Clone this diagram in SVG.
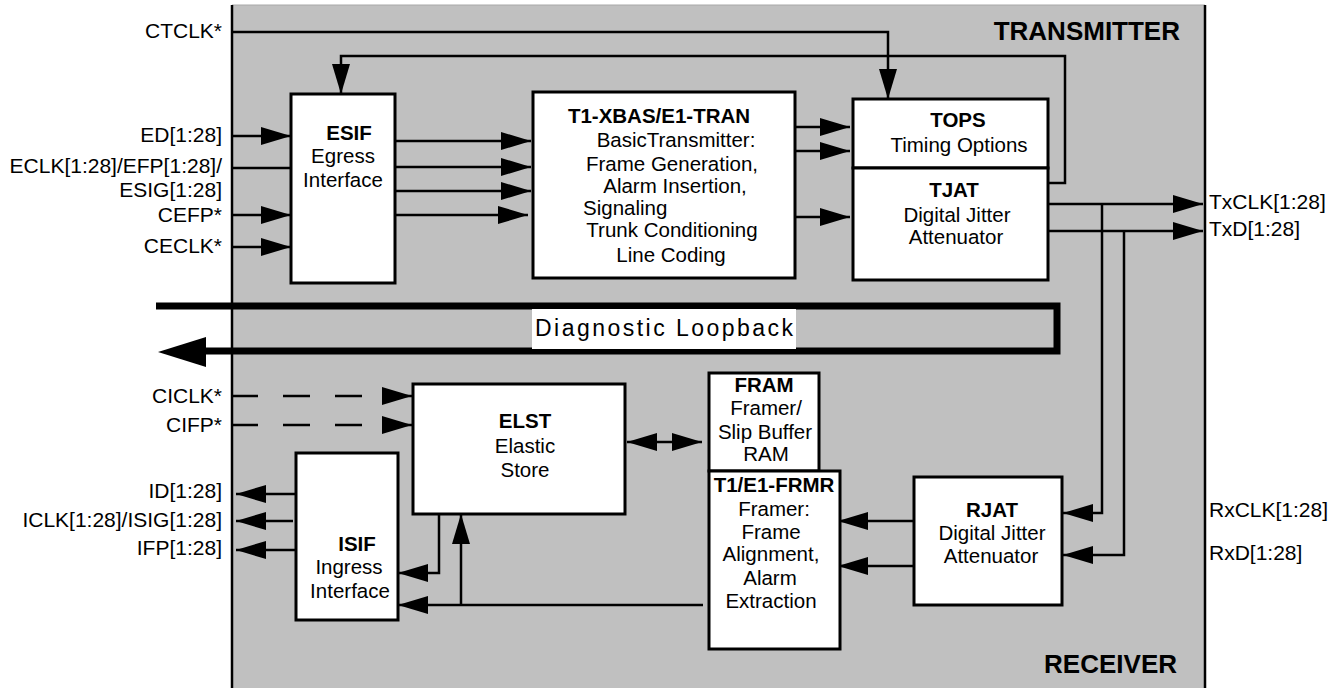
<svg xmlns="http://www.w3.org/2000/svg" width="1342" height="688" viewBox="0 0 1342 688">
<defs>
<marker id="ah" markerUnits="userSpaceOnUse" markerWidth="31" markerHeight="18" refX="30" refY="9" orient="auto-start-reverse">
<path d="M0,0 L30,9 L0,18 z" fill="#000"/>
</marker>
</defs>
<style>
.t{font-family:"Liberation Sans",Arial,Helvetica,sans-serif;font-size:20.5px;fill:#000}
.x{font-size:21px}
.b{font-weight:bold}
.m{text-anchor:middle}
.e{text-anchor:end}
.box{fill:#fff;stroke:#000;stroke-width:3}
.w{fill:none;stroke:#000;stroke-width:2.5}
.a{marker-end:url(#ah)}
.d{stroke-dasharray:27 25}
.big{font-size:26px;font-weight:bold}
</style>
<rect x="0" y="0" width="1342" height="688" fill="#fff"/>
<g id="panel">
<rect x="232" y="5" width="973" height="690" fill="#c0c0c0"/>
<line x1="232" y1="5" x2="1205" y2="5" stroke="#a8a8a8" stroke-width="1"/>
<line x1="232" y1="5" x2="232" y2="688" stroke="#000" stroke-width="2.5"/>
<line x1="1205" y1="5" x2="1205" y2="688" stroke="#000" stroke-width="2.5"/>
<text class="t big e" x="1180" y="40">TRANSMITTER</text>
<text class="t big e" x="1177" y="673">RECEIVER</text>
</g>
<g id="connectors">
<path class="w a" d="M231,32 H888 V99"/>
<path class="w a" d="M1046,183 H1065 V56 H341 V94"/>
<path class="w a" d="M231,136 H291"/>
<path class="w" d="M231,168 H291"/>
<path class="w a" d="M231,215 H291"/>
<path class="w a" d="M231,247 H291"/>
<path class="w a" d="M395,141 H531"/>
<path class="w a" d="M395,167 H531"/>
<path class="w a" d="M395,191 H531"/>
<path class="w a" d="M395,215 H528"/>
<path class="w a" d="M793,127 H850"/>
<path class="w a" d="M793,151 H850"/>
<path class="w a" d="M795,217 H850"/>
<path class="w a" d="M1046,204 H1203"/>
<path class="w a" d="M1048,231 H1203"/>
<path class="w a" d="M1102,204 V513 H1063"/>
<path class="w a" d="M1124,231 V555 H1063"/>
<path class="w a" d="M914,521 H838"/>
<path class="w a" d="M914,566 H838"/>
<path class="w a" d="M703,605 H398"/>
<path class="w a" d="M461,605 V514"/>
<path class="w a" d="M439,514 V573 H398"/>
<path class="w a" d="M296,494 H236"/>
<path class="w a" d="M293,521 H236"/>
<path class="w a" d="M296,550 H236"/>
<path class="w d a" d="M231,396 H412"/>
<path class="w d a" d="M231,425 H412"/>
<path class="w a" d="M627,442 H702" style="marker-start:url(#ah)"/>
<path d="M156,306 H1057 V351 H200" fill="none" stroke="#000" stroke-width="7"/>
<polygon points="158,352 206,337 206,367" fill="#000"/>
</g>
<g id="loopback-label">
<rect x="532" y="309" width="264" height="40" fill="#fff"/>
<text class="t" x="535" y="336" style="font-size:23px" textLength="258" lengthAdjust="spacing">Diagnostic Loopback</text>
</g>
<g id="labels">
<text class="t x e" x="222" y="38">CTCLK*</text>
<text class="t x e" x="222" y="142">ED[1:28]</text>
<text class="t x e" x="222" y="173">ECLK[1:28]/EFP[1:28]/</text>
<text class="t x e" x="222" y="197">ESIG[1:28]</text>
<text class="t x e" x="222" y="222">CEFP*</text>
<text class="t x e" x="222" y="253">CECLK*</text>
<text class="t x e" x="222" y="403">CICLK*</text>
<text class="t x e" x="222" y="432">CIFP*</text>
<text class="t x e" x="222" y="498">ID[1:28]</text>
<text class="t x e" x="222" y="527">ICLK[1:28]/ISIG[1:28]</text>
<text class="t x e" x="222" y="555">IFP[1:28]</text>
<text class="t x" x="1209" y="209">TxCLK[1:28]</text>
<text class="t x" x="1209" y="236">TxD[1:28]</text>
<text class="t x" x="1209" y="517">RxCLK[1:28]</text>
<text class="t x" x="1209" y="560">RxD[1:28]</text>
</g>
<g id="ESIF">
<rect class="box" x="291" y="94" width="104" height="189"/>
<text class="t b m" x="349" y="140">ESIF</text>
<text class="t m" x="343" y="163">Egress</text>
<text class="t m" x="343" y="187">Interface</text>
</g>
<g id="T1-XBAS">
<rect class="box" x="533" y="92" width="262" height="186"/>
<text class="t b m" x="659" y="123">T1-XBAS/E1-TRAN</text>
<text class="t m" x="676" y="147">BasicTransmitter:</text>
<text class="t m" x="672" y="171">Frame Generation,</text>
<text class="t m" x="675" y="193">Alarm Insertion,</text>
<text class="t" x="583" y="215">Signaling</text>
<text class="t m" x="672" y="237">Trunk Conditioning</text>
<text class="t m" x="671" y="262">Line Coding</text>
</g>
<g id="TOPS">
<rect class="box" x="853" y="99" width="195" height="69"/>
<text class="t b m" x="958" y="127">TOPS</text>
<text class="t m" x="959" y="152">Timing Options</text>
</g>
<g id="TJAT">
<rect class="box" x="853" y="168" width="195" height="112"/>
<text class="t b m" x="954" y="197">TJAT</text>
<text class="t m" x="957" y="222">Digital Jitter</text>
<text class="t m" x="956" y="244">Attenuator</text>
</g>
<g id="ELST">
<rect class="box" x="413" y="384" width="212" height="130"/>
<text class="t b m" x="525" y="428">ELST</text>
<text class="t m" x="525" y="453">Elastic</text>
<text class="t m" x="525" y="477">Store</text>
</g>
<g id="FRAM">
<rect class="box" x="709" y="373" width="110" height="98"/>
<text class="t b m" x="764" y="392">FRAM</text>
<text class="t m" x="766" y="415">Framer/</text>
<text class="t m" x="765" y="439">Slip Buffer</text>
<text class="t m" x="766" y="461">RAM</text>
</g>
<g id="FRMR">
<rect class="box" x="709" y="471" width="131" height="178"/>
<text class="t b m" x="774" y="492">T1/E1-FRMR</text>
<text class="t m" x="774" y="516">Framer:</text>
<text class="t m" x="771" y="539">Frame</text>
<text class="t m" x="771" y="561">Alignment,</text>
<text class="t m" x="770" y="585">Alarm</text>
<text class="t m" x="771" y="608">Extraction</text>
</g>
<g id="RJAT">
<rect class="box" x="914" y="477" width="148" height="128"/>
<text class="t b m" x="992" y="517">RJAT</text>
<text class="t m" x="992" y="540">Digital Jitter</text>
<text class="t m" x="991" y="563">Attenuator</text>
</g>
<g id="ISIF">
<rect class="box" x="296" y="453" width="102" height="167"/>
<text class="t b m" x="357" y="551">ISIF</text>
<text class="t m" x="349" y="574">Ingress</text>
<text class="t m" x="350" y="598">Interface</text>
</g>
</svg>
